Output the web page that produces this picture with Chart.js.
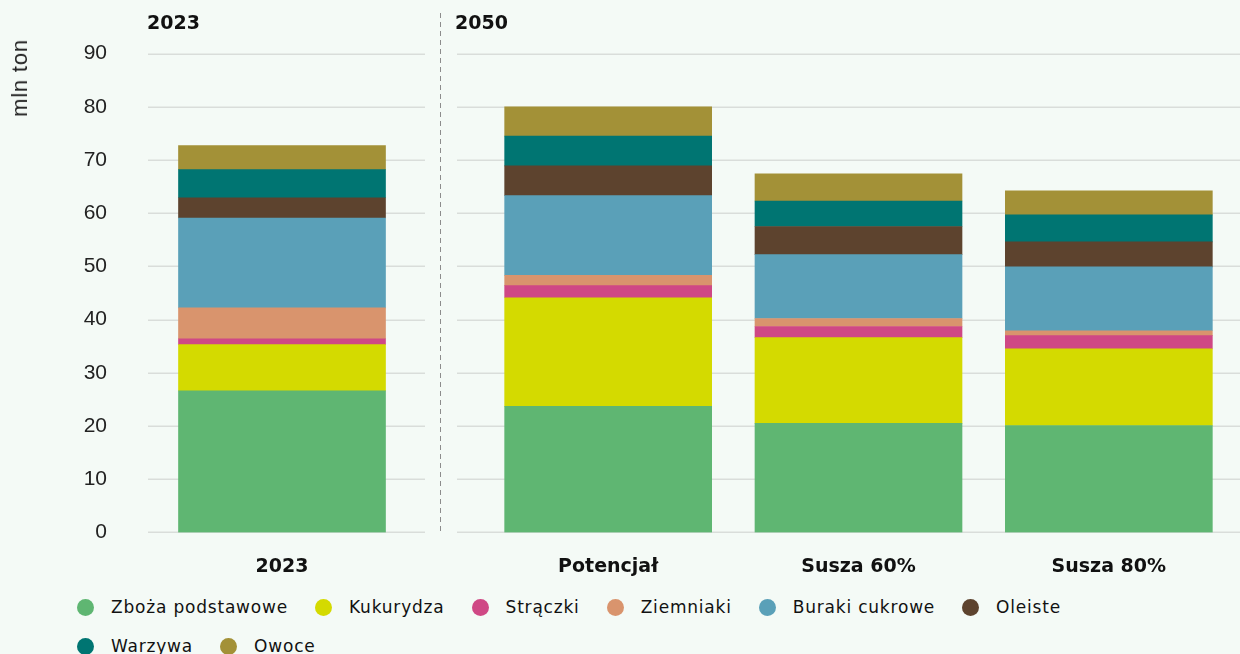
<!DOCTYPE html>
<html lang="pl">
<head>
<meta charset="utf-8">
<title>Produkcja roślinna – mln ton</title>
<script src="https://cdn.jsdelivr.net/npm/chart.js@4.4.1/dist/chart.umd.min.js"></script>
<style>
  html, body { margin: 0; padding: 0; background: #f4faf6; }
  #wrap { position: relative; width: 1240px; height: 654px; overflow: hidden; background: #f4faf6; }
  .box { position: absolute; top: 0; height: 586px; }
  #leftBox { left: 0; width: 440px; }
  #rightBox { left: 440px; width: 800px; }
  .head { position: absolute; top: 11px; font: bold 19px "DejaVu Sans", sans-serif; color: #111; }
  #unit { position: absolute; left: 20px; top: 78px; transform: translate(-50%, -50%) rotate(-90deg);
          font: 22px "Liberation Sans", Arial, sans-serif; color: #222; white-space: nowrap; letter-spacing: 0.8px; }
  #divider { position: absolute; left: 440px; top: 13px; width: 1px; height: 519px;
             background: repeating-linear-gradient(to bottom, #8c8c8c 0 5px, transparent 5px 9px); }
  #legend { position: absolute; left: 77px; top: 597px; width: 1100px; display: flex; flex-wrap: wrap; row-gap: 19px; }
  .item { display: flex; align-items: center; margin-right: 27px; height: 20px;
          font: 17px "DejaVu Sans", sans-serif; color: #111; letter-spacing: 0.8px; }
  .dot { width: 17px; height: 17px; border-radius: 50%; margin-right: 17px; flex: none; }
</style>
</head>
<body>
<div id="wrap">
  <div id="leftBox" class="box"><canvas id="left"></canvas></div>
  <div id="rightBox" class="box"><canvas id="right"></canvas></div>
  <div id="divider"></div>
  <div class="head" style="left:147px">2023</div>
  <div class="head" style="left:455px">2050</div>
  <div id="unit">mln ton</div>
  <div id="legend"></div>
</div>
<script>
// Categories: the current year and the three 2050 scenarios
const categories2023 = ['2023'];
const categories2050 = ['Potencjał', 'Susza 60%', 'Susza 80%'];
const yTicks = [0, 10, 20, 30, 40, 50, 60, 70, 80, 90];

// Crop groups (mln ton), order: 2023, Potencjał, Susza 60%, Susza 80%
const seriesNames = ['Zboża podstawowe', 'Kukurydza', 'Strączki', 'Ziemniaki', 'Buraki cukrowe', 'Oleiste', 'Warzywa', 'Owoce'];
const zboza     = [26.6, 23.7, 20.5, 20.1];
const kukurydza = [8.7, 20.4, 16.1, 14.4];
const straczki  = [1.1, 2.3, 2.1, 2.5];
const ziemniaki = [5.8, 1.9, 1.5, 0.9];
const buraki    = [16.9, 15.0, 12.0, 12.0];
const oleiste   = [3.8, 5.6, 5.3, 4.7];
const warzywa   = [5.3, 5.6, 4.8, 5.1];
const owoce     = [4.5, 5.5, 5.1, 4.5];
const seriesValues = [zboza, kukurydza, straczki, ziemniaki, buraki, oleiste, warzywa, owoce];
const seriesColors = ['#5fb672', '#d4da00', '#cf4885', '#d9946d', '#5aa0b8', '#5d432e', '#007572', '#a39137'];

// Horizontal grid lines drawn across a fixed horizontal span of the canvas
const spanGrid = {
  id: 'spanGrid',
  beforeDatasetsDraw(chart, args, opts) {
    const y = chart.scales.y;
    const ctx = chart.ctx;
    ctx.save();
    ctx.strokeStyle = '#d9ddda';
    ctx.lineWidth = 1.5;
    yTicks.forEach(v => {
      const py = Math.round(y.getPixelForValue(v)) + 0.25;
      ctx.beginPath();
      ctx.moveTo(opts.x0, py);
      ctx.lineTo(opts.x1 === undefined ? chart.width : opts.x1, py);
      ctx.stroke();
    });
    ctx.restore();
  }
};

function makeDatasets(from, to) {
  return seriesNames.map((name, i) => ({
    label: name,
    data: seriesValues[i].slice(from, to),
    backgroundColor: seriesColors[i],
    borderWidth: 0,
    barThickness: 207,
    stack: 's'
  }));
}

const xFont = { family: 'DejaVu Sans', size: 19, weight: 'bold' };

// Both panels share the same vertical layout; only the left one shows tick labels
function baseOptions(axisWidth, tickColor, padding, grid) {
  return {
    responsive: true,
    maintainAspectRatio: false,
    animation: false,
    layout: { padding },
    plugins: { legend: { display: false }, tooltip: { enabled: false }, spanGrid: grid },
    scales: {
      x: {
        stacked: true,
        grid: { display: false, drawTicks: false },
        border: { display: false },
        ticks: { font: xFont, color: '#111', padding: 23, maxRotation: 0 },
        afterFit(s) { s.height = 49; }
      },
      y: {
        stacked: true,
        min: 0, max: 90,
        grid: { display: false, drawTicks: false },
        border: { display: false },
        afterBuildTicks(s) { s.ticks = yTicks.map(v => ({ value: v })); },
        ticks: { font: { family: 'Liberation Sans', size: 21 }, color: tickColor, padding: 41 },
        afterFit(s) { s.width = axisWidth; }
      }
    }
  };
}

new Chart(document.getElementById('left'), {
  type: 'bar',
  data: { labels: categories2023, datasets: makeDatasets(0, 1) },
  options: baseOptions(148, '#222', { top: 51, right: 24, left: 0, bottom: 0 }, { x0: 148, x1: 425 }),
  plugins: [spanGrid]
});

new Chart(document.getElementById('right'), {
  type: 'bar',
  data: { labels: categories2050, datasets: makeDatasets(1, 4) },
  options: baseOptions(0, 'rgba(0,0,0,0)', { top: 51, right: 6, left: 43, bottom: 0 }, { x0: 17 }),
  plugins: [spanGrid]
});

// Legend built from the series names and colours
const legend = document.getElementById('legend');
seriesNames.forEach((name, i) => {
  const item = document.createElement('div');
  item.className = 'item';
  const dot = document.createElement('span');
  dot.className = 'dot';
  dot.style.background = seriesColors[i];
  const txt = document.createElement('span');
  txt.textContent = name;
  item.appendChild(dot);
  item.appendChild(txt);
  legend.appendChild(item);
});
</script>
</body>
</html>
